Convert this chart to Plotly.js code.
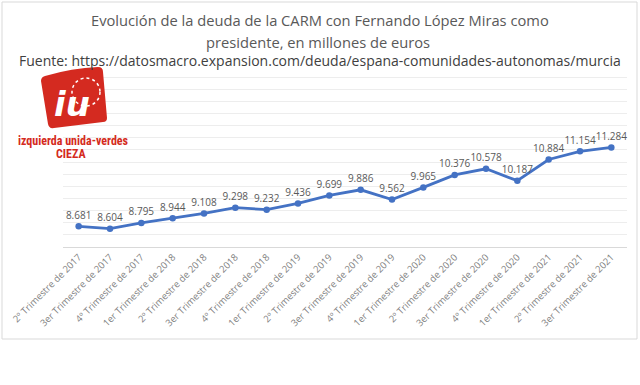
<!DOCTYPE html>
<html>
<head>
<meta charset="utf-8">
<script src="https://cdn.plot.ly/plotly-3.0.1.min.js"></script>
<style>html,body{margin:0;padding:0;background:#fff;}#chart{width:640px;height:385px;}</style>
</head>
<body>
<div id="chart"></div>
<script>
const categories = [
  "2º Trimestre de 2017","3er Trimestre de 2017","4º Trimestre de 2017",
  "1er Trimestre de 2018","2º Trimestre de 2018","3er Trimestre de 2018","4º Trimestre de 2018",
  "1er Trimestre de 2019","2º Trimestre de 2019","3er Trimestre de 2019","4º Trimestre de 2019",
  "1er Trimestre de 2020","2º Trimestre de 2020","3er Trimestre de 2020","4º Trimestre de 2020",
  "1er Trimestre de 2021","2º Trimestre de 2021","3er Trimestre de 2021"
];
const deuda = [8681, 8604, 8795, 8944, 9108, 9298, 9232, 9436, 9699, 9886, 9562, 9965, 10376, 10578, 10187, 10884, 11154, 11284];

const titleLine1 = "Evolución de la deuda de la CARM con Fernando López Miras como";
const titleLine2 = "presidente, en millones de euros";
const sourceText = "Fuente: https://datosmacro.expansion.com/deuda/espana-comunidades-autonomas/murcia";
const logoLine1 = "izquierda unida-verdes";
const logoLine2 = "CIEZA";
const logoMark = "<i>iu</i>";

// plot area in pixels
const L = 63, R = 13, T = 65, B = 138, W = 640, H = 385;
const PW = W - L - R, PH = H - T - B;
const px = x => (x - L) / PW;
const py = y => (H - B - y) / PH;

const red = "#d42a20";

const trace = {
  type: "scatter",
  mode: "lines+markers+text",
  x: categories,
  y: deuda,
  line: {color: "#4472c4", width: 2.8},
  marker: {color: "#4472c4", size: 6.5},
  texttemplate: "%{y:,.0f}",
  textposition: "top center",
  textfont: {family: "Open Sans", size: 10, color: "#595959"},
  cliponaxis: false,
  hoverinfo: "skip"
};

const logoPath = `M ${px(45)} ${py(76)} Q ${px(72)} ${py(68)} ${px(98)} ${py(67)} Q ${px(103)} ${py(67)} ${px(103)} ${py(72)} L ${px(107)} ${py(118)} Q ${px(107)} ${py(122)} ${px(103)} ${py(122)} L ${px(54)} ${py(128)} Q ${px(49)} ${py(129)} ${px(48)} ${py(124)} L ${px(41)} ${py(81)} Q ${px(41)} ${py(77)} ${px(45)} ${py(76)} Z`;

const layout = {
  width: W, height: H,
  margin: {l: L, r: R, t: T, b: B},
  paper_bgcolor: "#ffffff",
  plot_bgcolor: "rgba(0,0,0,0)",
  separators: ",.",
  showlegend: false,
  xaxis: {
    type: "category",
    tickangle: -45,
    tickfont: {family: "Open Sans", size: 9.5, color: "#7f7f7f"},
    showgrid: false,
    showline: true, linecolor: "#d9d9d9", linewidth: 1,
    ticks: "",
    range: [-0.5, categories.length - 0.5],
    fixedrange: true
  },
  yaxis: {
    range: [8000, 14000],
    dtick: 400,
    showticklabels: false,
    showgrid: true, gridcolor: "#ededed", gridwidth: 1,
    zeroline: false,
    showline: false,
    ticks: "",
    fixedrange: true
  },
  shapes: [
    {type: "rect", xref: "paper", yref: "paper", x0: px(2), x1: px(637), y0: py(2), y1: py(339),
     line: {color: "#d9d9d9", width: 1}, fillcolor: "rgba(0,0,0,0)", layer: "below"},
    {type: "path", xref: "paper", yref: "paper", path: logoPath, fillcolor: red, line: {width: 0}, layer: "above"},
    {type: "circle", xref: "paper", yref: "paper", x0: px(72), x1: px(100), y0: py(78), y1: py(106),
     line: {color: "#ffffff", width: 1.5, dash: "dot"}, fillcolor: "rgba(0,0,0,0)", layer: "above"}
  ],
  annotations: [
    {text: titleLine1, xref: "paper", yref: "paper", x: px(320), y: py(20), xanchor: "center", yanchor: "middle",
     showarrow: false, font: {family: "Open Sans", size: 14.7, color: "#595959"}},
    {text: titleLine2, xref: "paper", yref: "paper", x: px(318), y: py(42), xanchor: "center", yanchor: "middle",
     showarrow: false, font: {family: "Open Sans", size: 14.7, color: "#595959"}},
    {text: sourceText, xref: "paper", yref: "paper", x: px(320), y: py(60), xanchor: "center", yanchor: "middle",
     showarrow: false, font: {family: "Open Sans", size: 14, color: "#404040"}},
    {text: logoMark, xref: "paper", yref: "paper", x: px(72), y: py(104), xanchor: "center", yanchor: "middle",
     showarrow: false, font: {family: "DejaVu Sans", size: 34, color: "#ffffff", weight: "bold"}},
    {text: "<b>" + logoLine1 + "</b>", xref: "paper", yref: "paper", x: px(73), y: py(141), xanchor: "center", yanchor: "middle",
     showarrow: false, font: {family: "Liberation Sans Narrow, Roboto Condensed, Roboto", size: 12, color: red}},
    {text: "<b>" + logoLine2 + "</b>", xref: "paper", yref: "paper", x: px(71), y: py(154), xanchor: "center", yanchor: "middle",
     showarrow: false, font: {family: "Liberation Sans Narrow, Roboto Condensed, Roboto", size: 12, color: red}}
  ]
};

Plotly.newPlot("chart", [trace], layout, {displayModeBar: false, staticPlot: true});
</script>
</body>
</html>
